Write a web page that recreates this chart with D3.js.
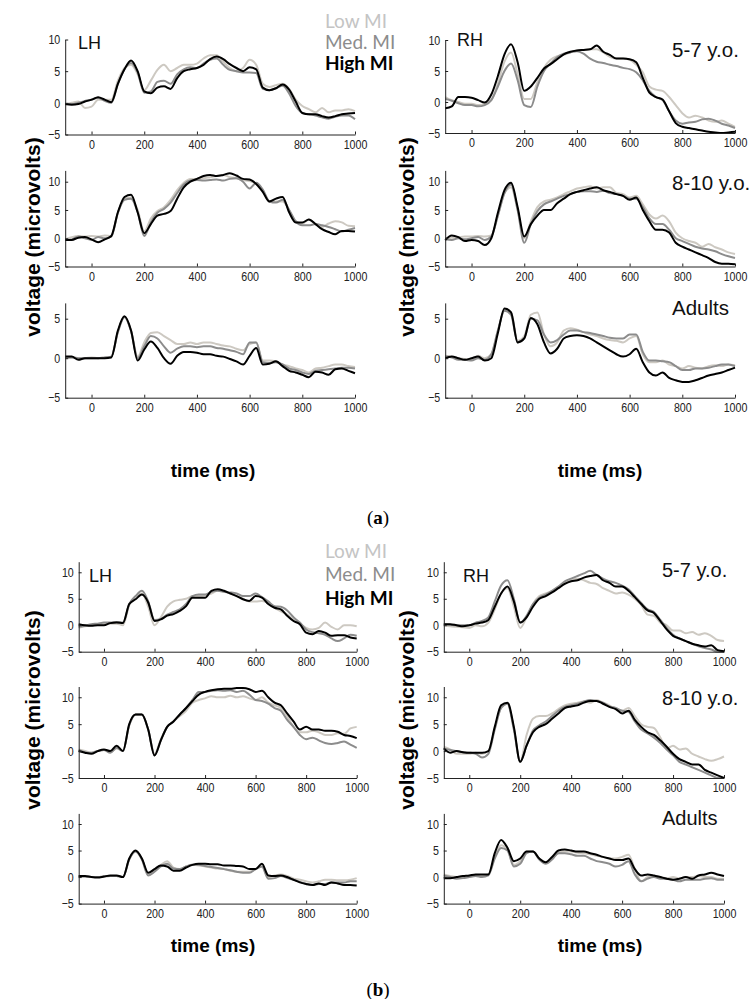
<!DOCTYPE html>
<html>
<head>
<meta charset="utf-8">
<script src="https://cdn.jsdelivr.net/npm/d3@7"></script>
<style>
  body { margin: 0; background: #fff; }
  svg { display: block; }
</style>
</head>
<body>
<svg id="chart" width="755" height="999"></svg>
<script>
// time axis (ms), one sample every 25 ms
const times = [-100,-75,-50,-25,0,25,50,75,100,125,150,175,200,225,250,275,300,325,350,375,400,425,450,475,500,525,550,575,600,625,650,675,700,725,750,775,800,825,850,875,900,925,950,975,1000];

const xTicks = [0, 200, 400, 600, 800, 1000];
const yTicksFull = [-5, 0, 5, 10];
const yTicksShort = [-5, 0, 5];

const groupNames = ['Low MI', 'Med. MI', 'High MI'];
const ageLabels = ['5-7 y.o.', '8-10 y.o.', 'Adults'];

// ---- (a) left hemisphere ----
const aLH57Low  = [-0.3,0,0.2,-0.8,-0.6,0.5,0.5,0.5,3.5,5.5,6.0,4.5,2.0,3.5,5.2,6.0,5.0,5.5,6.0,6.0,6.2,7.0,7.5,7.5,6.5,5.5,5.0,5.5,6.8,6.0,3.0,2.5,2.8,3.0,2.2,0.5,-0.5,-1.0,-1.5,-0.8,-1.5,-1.2,-1.2,-1.0,-1.3];
const aLH57Med  = [-0.2,-0.2,0,0.3,0.5,0.8,0.3,0,3.0,5.3,6.3,4.8,1.6,1.8,3.3,3.5,3.0,4.5,5.3,5.6,5.5,6.2,6.8,7.0,6.0,5.2,5.0,4.8,4.8,4.7,2.2,2.0,2.3,2.7,1.5,-0.5,-1.6,-1.8,-2.0,-2.3,-2.5,-2.2,-2.0,-2.0,-2.6];
const aLH57High = [-0.2,-0.3,-0.2,0.2,0.5,0.9,0.5,0.1,3.0,5.3,6.7,5.0,1.8,1.5,2.4,2.6,2.2,3.9,5.0,5.3,5.5,6.0,6.9,7.3,6.9,6.1,5.5,5.0,5.6,5.3,2.4,2.0,2.3,2.9,2.1,0.2,-1.6,-1.8,-1.8,-2.1,-2.3,-2.1,-1.8,-1.7,-1.6];

const aLH810Low  = [-0.2,0.2,0.4,0.3,0.4,0.3,0.5,0.4,4.5,7.0,7.2,5.0,1.2,3.5,4.8,5.5,6.8,8.5,9.8,10.5,10.5,10.6,10.8,11.0,11.2,10.8,10.6,10.3,10.1,9.6,8.5,6.5,6.5,6.5,5.0,3.0,2.6,3.3,2.5,2.0,2.6,3.0,2.8,2.2,2.1];
const aLH810Med  = [-0.3,-0.2,0.3,0,-0.3,0.2,0,0.3,4.5,6.8,7.0,4.6,0.4,2.8,4.5,5.2,6.3,8.0,9.5,10.2,10.3,10.2,10.3,10.4,10.2,10.5,10.6,10.0,8.8,9.8,8.6,6.5,6.3,6.8,5.0,3.0,2.3,2.3,2.5,2.3,2.0,1.6,1.2,1.5,1.8];
const aLH810High = [-0.3,-0.3,0.1,0.2,-0.2,-0.7,-0.2,0.4,4.6,7.3,7.7,4.6,0.9,2.5,4.0,4.3,4.8,7.0,9.0,10.0,10.5,11.0,11.2,11.0,11.2,11.5,11.1,10.5,10.4,9.6,8.2,6.5,7.0,7.3,4.6,2.8,2.8,3.3,2.5,1.6,1.1,0.7,1.3,1.3,1.2];

const aLHAdLow  = [0,0.1,0,0,0.1,0,0.1,0.2,3.3,5.2,3.5,0.2,2.0,3.2,3.3,2.8,2.3,1.8,1.8,2.0,1.8,2.0,2.0,1.8,1.6,1.5,1.2,1.0,1.8,2.0,-0.3,-0.3,-0.4,-0.8,-1.0,-1.3,-1.5,-1.8,-1.3,-1.2,-1.0,-0.8,-0.8,-1.0,-1.1];
const aLHAdMed  = [0.1,0.1,0,0,0,0,0.1,0.2,3.3,5.2,3.4,0,1.5,2.8,2.5,1.5,0.7,1.2,1.5,1.5,1.4,1.5,1.5,1.3,1.2,1.0,0.8,0.5,2.0,2.0,-0.5,-0.6,-0.5,-0.8,-1.3,-1.5,-1.8,-2.0,-1.6,-1.5,-1.4,-1.3,-1.2,-1.2,-1.3];
const aLHAdHigh = [0.2,0.2,-0.2,0,0,0,0,0.1,3.5,5.3,3.5,-0.3,1.1,2.1,1.3,0,-0.7,0.3,0.8,0.8,0.7,0.5,0.5,0.3,0.2,-0.1,-0.4,-0.8,0.3,1.3,-0.8,-0.7,-0.4,-1.0,-1.6,-1.8,-2.1,-2.4,-1.7,-1.8,-2.1,-1.4,-1.3,-1.6,-1.9];

// ---- (a) right hemisphere ----
const aRH57Low  = [0.8,0.3,0,-0.3,-0.3,-0.5,-0.3,0.3,3.0,6.5,8.0,4.5,0.5,0.5,3.2,5.5,6.8,7.4,7.6,8.0,8.3,8.4,8.5,8.5,8.0,7.3,7.0,7.0,6.8,6.0,4.8,2.5,2.0,1.8,0.8,-0.5,-1.8,-2.5,-2.2,-2.5,-3.0,-3.2,-3.0,-3.5,-4.0];
const aRH57Med  = [0.5,0.2,-0.2,-0.5,-0.5,-0.7,-0.5,0.3,2.5,5.0,6.2,3.5,-0.5,-0.8,2.5,5.0,6.2,7.2,7.8,8.0,8.2,7.8,7.0,6.5,6.3,6.0,5.8,5.5,5.3,4.8,3.5,1.8,0.8,0.3,-1.5,-3.0,-3.5,-3.3,-3.2,-2.8,-2.7,-3.0,-3.5,-3.8,-4.2];
const aRH57High = [-1.0,-0.7,0.8,0.8,0.7,0.3,-0.1,1.2,4.2,7.7,9.3,6.4,1.8,2.5,3.9,5.4,6.1,6.9,7.7,8.1,8.3,8.4,8.5,9.1,8.1,7.6,7.0,7.0,6.9,6.4,3.9,1.5,0.8,0.4,-1.5,-3.4,-4.0,-4.2,-4.4,-4.6,-4.8,-4.9,-5.0,-4.9,-4.8];

const aRH810Low  = [0,0.1,0.2,0.3,0.3,0.4,0.3,0.5,4.0,8.0,9.0,5.0,0,3.0,5.5,6.5,6.8,7.2,7.8,8.3,8.8,9.0,9.2,8.8,9.0,9.0,8.0,7.8,7.2,7.5,6.0,4.2,3.5,4.0,3.0,1.0,0,-0.5,-0.8,-1.5,-1.0,-1.6,-2.0,-2.5,-2.8];
const aRH810Med  = [-0.2,-0.3,0,-0.2,0,0.2,-0.3,0.3,4.0,8.0,9.5,5.0,-0.8,2.5,4.8,6.0,6.5,7.0,7.5,7.8,8.2,8.3,8.3,8.2,8.4,8.0,7.8,7.5,7.0,7.0,5.5,3.5,2.5,2.5,1.5,0,-0.5,-1.0,-1.5,-1.8,-2.0,-2.3,-2.8,-3.2,-3.5];
const aRH810High = [-0.3,0.5,0.2,-0.5,-0.3,-0.5,-1.2,0,4.5,8.5,9.8,5.5,0.3,2.5,4.0,5.0,5.0,6.2,7.0,7.8,8.2,8.5,8.8,9.0,8.5,8.2,7.8,7.5,6.8,7.2,5.0,3.0,1.5,1.5,1.0,-0.8,-1.5,-2.0,-2.5,-3.0,-3.5,-4.2,-4.5,-4.5,-4.6];

const aRHAdLow  = [0.3,0.2,0,-0.1,-0.2,0.3,0,0.5,3.5,6.0,5.8,2.2,2.8,5.5,5.8,3.0,1.5,2.0,3.5,3.8,3.6,3.3,3.0,2.8,2.5,2.3,2.2,2.0,2.5,2.8,0.5,-0.5,-0.5,-0.3,-0.8,-1.0,-1.3,-1.0,-1.2,-1.3,-1.0,-0.9,-1.0,-0.8,-0.9];
const aRHAdMed  = [0.2,0.1,-0.2,-0.2,-0.3,0,-0.2,0.5,3.5,6.0,5.5,2.0,2.5,5.0,4.8,3.0,2.0,2.3,3.0,3.5,3.5,3.3,3.2,3.0,2.8,2.6,2.5,2.5,3.0,3.0,0.8,-0.3,-0.3,-0.4,-0.5,-1.0,-1.5,-1.5,-1.3,-1.3,-1.2,-1.0,-0.8,-0.8,-1.0];
const aRHAdHigh = [0,0.2,0,-0.2,0,0.2,-0.3,0,3.2,6.3,5.8,2.0,2.5,5.1,4.3,2.0,0.6,1.2,2.5,2.8,2.9,2.8,2.5,2.0,1.5,1.0,0.5,0.2,0.5,1.2,-0.5,-1.8,-2.2,-1.8,-2.5,-2.8,-3.0,-3.0,-2.8,-2.5,-2.2,-2.0,-1.8,-1.5,-1.2];

// ---- (b) left hemisphere ----
const bLH57Low  = [-0.5,-0.2,0,0.2,0.3,0.3,0.3,0,3.8,5.5,6.0,3.5,0,1.5,3.5,4.5,4.8,5.0,5.5,5.5,5.6,6.0,6.5,6.3,6.0,5.5,5.0,4.5,4.5,4.6,4.2,3.3,2.6,2.0,1.0,0.3,-0.5,-0.8,-0.5,0.5,-0.3,-0.8,0,0,-0.2];
const bLH57Med  = [-0.3,-0.1,0.2,0.3,0.5,0.5,0.6,0.5,4.0,5.5,6.5,4.5,1.0,1.2,2.0,2.5,3.0,4.0,5.5,5.8,5.8,6.3,6.5,6.3,6.2,6.0,5.5,5.5,6.0,5.3,4.5,3.6,3.5,2.8,1.5,0.5,-0.8,-1.3,-1.5,-1.8,-2.5,-3.0,-2.5,-1.8,-2.0];
const bLH57High = [0.2,0,-0.1,0,0,0.4,0.5,0.4,4.0,4.9,5.8,4.3,0.8,1.1,1.8,2.1,2.7,3.6,5.2,5.2,5.2,6.5,6.8,6.5,6.0,5.5,4.9,4.6,5.5,5.2,4.0,3.3,3.0,1.8,0.8,0.2,-1.4,-1.7,-1.1,-1.4,-2.0,-1.9,-1.9,-2.3,-2.5];

const bLH810Low  = [0.3,0,-0.3,0,0.2,-0.2,0.5,0,4.8,6.8,6.8,4.0,-0.5,2.2,4.5,5.5,6.5,7.5,9.0,9.5,9.8,10.2,10.0,10.0,10.3,10.0,10.2,9.8,9.5,10.0,9.0,8.5,8.0,6.5,4.5,3.5,3.5,3.8,3.5,3.0,3.0,3.3,3.2,4.2,4.5];
const bLH810Med  = [0.2,-0.2,-0.3,0,0.2,-0.3,0.6,0,4.8,6.8,6.8,4.0,-0.8,2.0,4.5,5.5,6.8,8.0,9.5,11.0,11.0,11.2,11.3,11.2,11.3,11.0,11.2,10.5,9.5,9.3,8.8,8.0,7.5,5.8,4.5,3.0,2.2,2.5,2.0,1.5,1.3,1.5,1.8,1.2,0.6];
const bLH810High = [0,-0.3,-0.5,0,0.3,0,1.0,0,5.0,6.8,6.8,4.0,-0.8,2.0,4.5,5.5,6.8,8.0,9.3,10.5,11.0,11.3,11.5,11.6,11.6,11.7,11.7,11.5,11.0,11.2,10.0,9.0,8.5,7.0,5.5,4.0,4.5,4.0,4.0,3.8,3.8,3.6,3.0,2.8,2.4];

const bLHAdLow  = [0.1,0.1,0,0,0.1,0.2,0.2,0,3.3,4.8,3.4,0.5,1.3,2.3,3.0,1.8,1.5,2.0,2.3,2.2,2.0,1.8,1.6,1.5,1.2,1.0,1.0,1.0,1.5,2.0,0,0.3,0.5,0.2,-0.3,-0.5,-0.8,-1.0,-0.8,-0.5,-0.5,-0.6,-0.6,-0.5,-0.2];
const bLHAdMed  = [0.1,0.1,0,0,0.1,0.2,0.2,0,3.3,4.8,3.3,0.3,1.0,2.0,2.5,1.6,1.5,2.0,2.3,2.3,2.1,1.9,1.7,1.5,1.3,1.0,0.8,0.8,1.5,2.0,-0.3,-0.2,0.2,-0.2,-0.5,-0.9,-1.3,-1.5,-1.3,-1.3,-1.0,-1.0,-1.0,-0.8,-0.8];
const bLHAdHigh = [0.2,0.2,0,-0.1,0.1,0.3,0.3,0,3.5,5.0,3.5,0.8,1.5,2.2,2.0,1.2,1.2,1.8,2.3,2.5,2.5,2.4,2.4,2.2,2.2,2.1,2.0,1.5,1.5,2.5,0.3,0.2,0.3,0,-0.5,-1.0,-1.3,-1.5,-1.2,-1.5,-1.0,-1.2,-1.5,-1.5,-1.6];

// ---- (b) right hemisphere ----
const bRH57Low  = [0,-0.2,-0.3,-0.4,-0.5,0,-0.2,0.5,3.0,6.0,7.0,3.5,-0.5,1.5,4.0,5.5,6.0,6.5,7.3,8.0,8.5,8.8,8.5,8.0,7.8,7.0,6.5,6.0,6.2,5.8,5.0,3.8,2.0,1.8,0.5,0,-1.0,-1.0,-1.5,-1.3,-1.8,-1.5,-2.0,-2.8,-3.0];
const bRH57Med  = [0.2,0.1,0,0,0,0.5,0.8,1.5,4.5,7.5,8.5,5.0,0.5,1.8,4.0,5.2,5.8,6.5,7.3,8.3,8.8,9.3,9.8,10.3,9.5,8.8,8.3,8.0,7.5,6.8,5.5,4.2,3.0,2.5,1.0,-0.5,-1.8,-2.5,-3.0,-3.5,-4.0,-4.3,-4.6,-5.0,-5.0];
const bRH57High = [0.2,0.2,0,-0.2,0,0.3,0.5,1.0,3.5,6.0,7.3,4.5,0.5,1.5,3.5,5.0,5.5,6.2,7.0,7.8,8.3,8.5,9.0,9.3,9.5,8.5,8.0,7.3,7.3,6.5,5.3,4.0,2.8,2.3,0.8,-0.8,-2.0,-2.5,-3.0,-3.5,-3.8,-4.0,-3.8,-4.7,-4.9];

const bRH810Low  = [0.8,0.3,-0.5,-0.5,-0.5,-0.3,-0.5,0,4.3,8.0,8.8,4.3,-2.0,3.0,6.0,6.5,6.5,7.0,7.8,8.5,8.8,9.0,9.2,9.0,9.5,9.0,8.5,7.8,7.5,8.0,6.5,5.0,4.5,4.3,2.5,0.5,1.0,0.3,0.5,-0.5,-1.0,-1.5,-1.8,-1.5,-1.0];
const bRH810Med  = [0.5,0.2,0,-0.2,-0.3,-0.5,-1.2,-0.5,4.0,8.0,8.8,4.0,-2.0,1.0,3.8,4.8,5.5,6.5,7.5,8.2,8.5,8.8,9.2,9.5,9.3,9.0,8.3,8.0,7.5,7.3,5.5,4.0,3.3,2.5,1.5,0.3,-0.8,-2.0,-2.5,-3.0,-3.5,-4.0,-4.5,-5.0,-5.0];
const bRH810High = [0.5,-0.3,0,-0.2,-0.3,-0.3,-0.3,0,4.5,8.5,9.0,4.5,-2.0,1.0,3.5,4.5,5.0,6.0,7.0,8.0,8.3,8.5,9.0,9.3,9.3,8.8,8.2,7.8,7.0,7.5,5.8,4.5,3.5,3.0,2.0,0.8,-0.5,-1.5,-2.0,-2.5,-2.5,-3.5,-4.0,-4.5,-5.0];

const bRHAdLow  = [0.5,0.2,0,0,0,0.3,0.3,0.5,3.8,6.0,5.2,2.3,3.0,4.8,4.8,3.5,2.8,3.5,4.5,4.8,4.8,4.6,4.5,4.3,4.0,3.8,3.5,3.5,3.8,4.2,1.5,-0.8,0,0.2,0,-0.2,0,-0.2,0,0,0.2,0,0,-0.3,-0.3];
const bRHAdMed  = [0.3,0,-0.3,-0.2,0,0.2,0,0.3,3.5,5.5,5.0,2.0,2.5,4.5,4.8,3.3,2.5,3.3,4.5,4.5,4.3,4.0,4.0,3.5,3.0,2.8,2.5,2.0,2.3,3.0,0.5,-0.8,-0.3,0,-0.3,-0.3,-0.5,-0.8,-0.5,-0.5,-0.5,-0.3,-0.2,-0.5,-0.5];
const bRHAdHigh = [-0.2,-0.2,0,0.2,0.3,0.5,0.5,0.5,4.5,7.0,5.5,3.0,3.5,4.8,4.8,3.5,2.8,3.8,5.0,5.2,5.0,4.8,4.8,4.5,4.2,3.8,3.5,3.2,3.2,3.5,1.5,0.3,0.5,0.3,0,-0.3,-0.5,-0.3,0,-0.3,0.3,0.5,0.8,0.5,0.2];

const lineColors = ['#cdc9c2', '#8c8c8c', '#000000'];
const legendColors = ['#c4c4c4', '#8c8c8c', '#000000'];
const sansFont = '"Liberation Sans", Arial, Helvetica, sans-serif';

const svg = d3.select('#chart');

// pixel layout of each small panel
const panels = [
  { xr: [65.2, 355], yr: [134.5, 39.5], yMax: 10, yTicks: yTicksFull, series: [aLH57Low, aLH57Med, aLH57High] },
  { xr: [65.2, 355], yr: [266.5, 170.4], yMax: 12, yTicks: yTicksFull, series: [aLH810Low, aLH810Med, aLH810High] },
  { xr: [65.2, 355], yr: [397.7, 302.9], yMax: 7, yTicks: yTicksShort, series: [aLHAdLow, aLHAdMed, aLHAdHigh] },
  { xr: [445.2, 735], yr: [133, 40], yMax: 10, yTicks: yTicksFull, series: [aRH57Low, aRH57Med, aRH57High] },
  { xr: [445.2, 735], yr: [266.5, 170.4], yMax: 12, yTicks: yTicksFull, series: [aRH810Low, aRH810Med, aRH810High] },
  { xr: [445.2, 735], yr: [397.7, 302.9], yMax: 7, yTicks: yTicksShort, series: [aRHAdLow, aRHAdMed, aRHAdHigh] },
  { xr: [78.7, 356.7], yr: [651.7, 561.7], yMax: 12, yTicks: yTicksFull, series: [bLH57Low, bLH57Med, bLH57High] },
  { xr: [78.7, 356.7], yr: [778, 686.5], yMax: 12, yTicks: yTicksFull, series: [bLH810Low, bLH810Med, bLH810High] },
  { xr: [78.7, 356.7], yr: [903.6, 813.4], yMax: 12, yTicks: yTicksFull, series: [bLHAdLow, bLHAdMed, bLHAdHigh] },
  { xr: [443.8, 724], yr: [651.7, 561.7], yMax: 12, yTicks: yTicksFull, series: [bRH57Low, bRH57Med, bRH57High] },
  { xr: [443.8, 724], yr: [778, 686.5], yMax: 12, yTicks: yTicksFull, series: [bRH810Low, bRH810Med, bRH810High] },
  { xr: [443.8, 724], yr: [903.6, 813.4], yMax: 12, yTicks: yTicksFull, series: [bRHAdLow, bRHAdMed, bRHAdHigh] }
];

panels.forEach(p => {
  const x = d3.scaleLinear().domain([-100, 1000]).range(p.xr);
  const y = d3.scaleLinear().domain([-5, p.yMax]).range(p.yr);
  const g = svg.append('g');

  const line = d3.line()
    .x((d, i) => x(times[i]))
    .y(d => y(d))
    .curve(d3.curveMonotoneX);

  p.series.forEach((s, k) => {
    g.append('path')
      .datum(s)
      .attr('d', line)
      .attr('fill', 'none')
      .attr('stroke', lineColors[k])
      .attr('stroke-width', 2)
      .attr('stroke-linejoin', 'round');
  });

  const yAxis = g.append('g')
    .attr('transform', `translate(${p.xr[0]},0)`)
    .call(d3.axisLeft(y).tickValues(p.yTicks).tickFormat(d3.format('d'))
      .tickSizeInner(-3).tickSizeOuter(0).tickPadding(6));
  const xAxis = g.append('g')
    .attr('transform', `translate(0,${p.yr[0]})`)
    .call(d3.axisBottom(x).tickValues(xTicks).tickFormat(d3.format('d'))
      .tickSizeInner(-3).tickSizeOuter(0).tickPadding(5));

  // the original tick labels use a tall, condensed face
  [yAxis, xAxis].forEach(a => {
    a.selectAll('path, line').attr('stroke', '#222');
    a.selectAll('text')
      .attr('font-family', sansFont)
      .attr('font-size', 13)
      .attr('fill', '#222')
      .attr('transform', 'scale(0.82,1)');
  });
});

// hemisphere labels
const hemi = [
  { t: 'LH', x: 78, y: 49 }, { t: 'RH', x: 457, y: 46 },
  { t: 'LH', x: 89, y: 582 }, { t: 'RH', x: 463, y: 582 }
];
svg.selectAll('.hemi').data(hemi).enter().append('text')
  .attr('x', d => d.x).attr('y', d => d.y)
  .attr('font-family', sansFont)
  .attr('font-size', 18)
  .attr('fill', '#111')
  .text(d => d.t);

// age labels on the right
const ageY = [[57, 190, 315], [577, 705, 825]];
const ageX = [672, 662];
ageY.forEach((ys, gi) => {
  ys.forEach((yy, i) => {
    svg.append('text')
      .attr('x', ageX[gi]).attr('y', yy)
      .attr('font-family', sansFont)
      .attr('font-size', gi === 0 ? 20.5 : 20)
      .attr('fill', '#111')
      .text(ageLabels[i]);
  });
});

// legends
const legendY = [[28, 49, 70], [558, 581, 605]];
legendY.forEach(ys => {
  ys.forEach((yy, i) => {
    svg.append('text')
      .attr('x', 325).attr('y', yy)
      .attr('font-family', 'Lato, "Open Sans", sans-serif')
      .attr('font-size', 19)
      .attr('font-weight', i === 2 ? 'bold' : 'normal')
      .attr('fill', legendColors[i])
      .text(groupNames[i]);
  });
});

// axis titles
const yTitles = [[40, 237], [414, 237], [40, 710], [414, 710]];
yTitles.forEach(([tx, ty]) => {
  svg.append('text')
    .attr('transform', `translate(${tx},${ty}) rotate(-90)`)
    .attr('text-anchor', 'middle')
    .attr('font-family', sansFont)
    .attr('font-weight', 'bold')
    .attr('font-size', 21)
    .attr('fill', '#000')
    .text('voltage (microvolts)');
});

const xTitles = [[213, 477], [600, 477], [213, 952], [600, 952]];
xTitles.forEach(([tx, ty]) => {
  svg.append('text')
    .attr('x', tx).attr('y', ty)
    .attr('text-anchor', 'middle')
    .attr('font-family', sansFont)
    .attr('font-weight', 'bold')
    .attr('font-size', 19)
    .attr('fill', '#000')
    .text('time (ms)');
});

// sub-figure letters
[['a', 524], ['b', 996]].forEach(([letter, ty]) => {
  const t = svg.append('text')
    .attr('x', 378).attr('y', ty)
    .attr('text-anchor', 'middle')
    .attr('font-family', '"Liberation Serif", "DejaVu Serif", serif')
    .attr('font-size', 19)
    .attr('fill', '#000');
  t.append('tspan').text('(');
  t.append('tspan').attr('font-weight', 'bold').text(letter);
  t.append('tspan').text(')');
});
</script>
</body>
</html>
